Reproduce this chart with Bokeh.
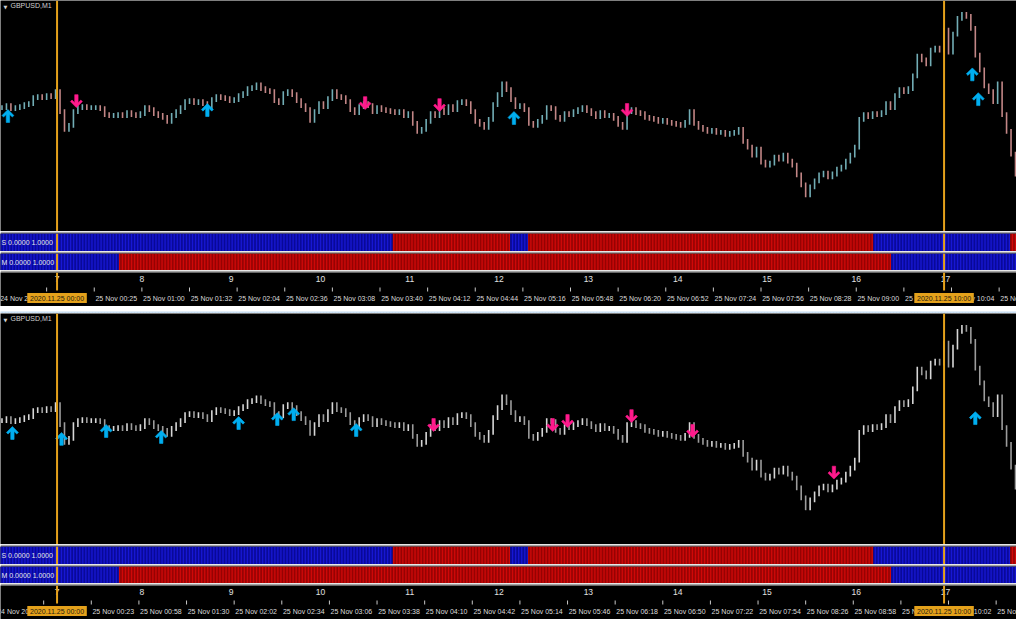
import numpy as np
from bokeh.plotting import figure
from bokeh.layouts import column
from bokeh.models import Range1d, Span, Label, ColumnDataSource
from bokeh.core.properties import value
from bokeh.embed import file_html
from bokeh.resources import INLINE

# ---------------------------------------------------------------- data
SYMBOL = "GBPUSD,M1"
FIRST_BAR = -38            # bar 0 = 2020.11.25 00:00 (M1 bars)
LAST_BAR = 644.67
GROUP = 3                  # minutes summarised by each drawn bar

# closing price of each 3-minute group
close = [
    1.33520, 1.33530, 1.33515, 1.33520, 1.33525, 1.33535, 1.33540, 1.33570, 1.33575, 1.33570,
    1.33580, 1.33575, 1.33600, 1.33500, 1.33410, 1.33430, 1.33500, 1.33520, 1.33525, 1.33520,
    1.33520, 1.33520, 1.33515, 1.33485, 1.33480, 1.33480, 1.33485, 1.33480, 1.33495, 1.33485,
    1.33480, 1.33490, 1.33520, 1.33510, 1.33490, 1.33480, 1.33470, 1.33450, 1.33480, 1.33500,
    1.33520, 1.33550, 1.33555, 1.33545, 1.33550, 1.33540, 1.33525, 1.33560, 1.33575, 1.33570,
    1.33565, 1.33555, 1.33560, 1.33580, 1.33590, 1.33615, 1.33620, 1.33635, 1.33615, 1.33605,
    1.33600, 1.33555, 1.33545, 1.33590, 1.33600, 1.33585, 1.33555, 1.33530, 1.33510, 1.33455,
    1.33500, 1.33540, 1.33525, 1.33565, 1.33600, 1.33575, 1.33570, 1.33550, 1.33510, 1.33495,
    1.33525, 1.33540, 1.33530, 1.33500, 1.33520, 1.33510, 1.33505, 1.33500, 1.33495, 1.33500,
    1.33480, 1.33490, 1.33440, 1.33400, 1.33410, 1.33450, 1.33490, 1.33480, 1.33510, 1.33495,
    1.33525, 1.33510, 1.33545, 1.33550, 1.33540, 1.33500, 1.33450, 1.33435, 1.33420, 1.33460,
    1.33535, 1.33585, 1.33640, 1.33610, 1.33560, 1.33525, 1.33530, 1.33510, 1.33440, 1.33430,
    1.33450, 1.33470, 1.33520, 1.33515, 1.33470, 1.33460, 1.33490, 1.33485, 1.33500, 1.33510,
    1.33520, 1.33505, 1.33490, 1.33475, 1.33495, 1.33480, 1.33480, 1.33465, 1.33435, 1.33420,
    1.33500, 1.33510, 1.33495, 1.33490, 1.33470, 1.33465, 1.33460, 1.33450, 1.33455, 1.33445,
    1.33440, 1.33435, 1.33430, 1.33445, 1.33500, 1.33440, 1.33420, 1.33410, 1.33400, 1.33405,
    1.33395, 1.33395, 1.33385, 1.33390, 1.33395, 1.33410, 1.33350, 1.33320, 1.33280, 1.33310,
    1.33245, 1.33230, 1.33240, 1.33270, 1.33260, 1.33280, 1.33250, 1.33230, 1.33180, 1.33130,
    1.33080, 1.33120, 1.33150, 1.33180, 1.33190, 1.33170, 1.33185, 1.33210, 1.33220, 1.33250,
    1.33280, 1.33320, 1.33460, 1.33485, 1.33475, 1.33490, 1.33485, 1.33495, 1.33540, 1.33520,
    1.33580, 1.33610, 1.33600, 1.33615, 1.33680, 1.33780, 1.33760, 1.33740, 1.33810, 1.33820,
    1.33810, 1.33910, 1.33800, 1.33890, 1.33970, 1.33990, 1.33980, 1.33920, 1.33785, 1.33710,
    1.33630, 1.33600, 1.33550, 1.33640, 1.33485, 1.33400, 1.33285, 1.33185,
]

# signal arrows (bar index, price of arrow tip)
top_up_bar = [-33, 101, 307, 615, 619]
top_up_price = [1.33510, 1.33540, 1.33500, 1.33720, 1.33595]
top_dn_bar = [13, 207, 257, 383]
top_dn_price = [1.33520, 1.33510, 1.33500, 1.33475]
bot_up_bar = [-30, 3, 33, 70, 122, 148, 159, 201, 617]
bot_up_price = [1.33490, 1.33460, 1.33500, 1.33470, 1.33540, 1.33560, 1.33585, 1.33505, 1.33565]
bot_dn_bar = [253, 333, 343, 386, 427, 522]
bot_dn_price = [1.33465, 1.33465, 1.33485, 1.33510, 1.33435, 1.33225]

# S / M histogram states (bar where a state begins; 0 = blue, 1 = red)
s_change_bar = [-38, 226, 305, 317, 549, 641]
s_change_state = [0, 1, 0, 1, 0, 1]
m_change_bar = [-38, 42, 561]
m_change_state = [0, 1, 0]
s_label = "S 0.0000 1.0000"
m_label = "M 0.0000 1.0000"

hour_bar = [0, 57, 117, 177, 237, 297, 357, 417, 477, 537, 597]
hour_label = ["7", "8", "9", "10", "11", "12", "13", "14", "15", "16", "17"]

top_tick_bar = [-39, -7, 25, 57, 89, 121, 153, 185, 217, 249, 281, 313, 345, 377, 409,
                441, 473, 505, 537, 569, 601, 633]
top_tick_label = ["24 Nov 2020", "", "25 Nov 00:25", "25 Nov 01:00", "25 Nov 01:32",
                  "25 Nov 02:04", "25 Nov 02:36", "25 Nov 03:08", "25 Nov 03:40",
                  "25 Nov 04:12", "25 Nov 04:44", "25 Nov 05:16", "25 Nov 05:48",
                  "25 Nov 06:20", "25 Nov 06:52", "25 Nov 07:24", "25 Nov 07:56",
                  "25 Nov 08:28", "25 Nov 09:00", "25 Nov 09:32", "25 Nov 10:04",
                  "25 Nov 10:36"]
bot_tick_bar = [-41, -9, 23, 55, 87, 119, 151, 183, 215, 247, 279, 311, 343, 375, 407,
                439, 471, 503, 535, 567, 599, 631]
bot_tick_label = ["24 Nov 2020", "", "25 Nov 00:23", "25 Nov 00:58", "25 Nov 01:30",
                  "25 Nov 02:02", "25 Nov 02:34", "25 Nov 03:06", "25 Nov 03:38",
                  "25 Nov 04:10", "25 Nov 04:42", "25 Nov 05:14", "25 Nov 05:46",
                  "25 Nov 06:18", "25 Nov 06:50", "25 Nov 07:22", "25 Nov 07:54",
                  "25 Nov 08:26", "25 Nov 08:58", "25 Nov 09:30", "25 Nov 10:02",
                  "25 Nov 10:34"]

vline_bar = [0, 596]
vline_label = ["2020.11.25 00:00", "2020.11.25 10:00"]

# ---------------------------------------------------------------- style
W = 1016
H_PRICE, H_S, H_M, H_AXIS, H_SEP = 231, 20, 19, 36, 7
PRICE_TOP, PRICE_BOTTOM = 1.34060, 1.32895
PX_BAR = 1 / 1.5          # bars per reference pixel
PX_PRICE = 0.00005        # price per reference pixel
ORANGE = "#e4a11b"
SEP_GRAY = "#a3a3a3"
FONT = "Liberation Sans"
UP_COLOR = "#00aef0"
DN_COLOR = "#ff1a8c"
ARROW_SHAPE = [(0, 0), (6, 6), (4.4, 7.6), (1.7, 4.9), (1.7, 13), (-1.7, 13),
               (-1.7, 4.9), (-4.4, 7.6), (-6, 6)]


def make_fig(h, y_range, top=0, bottom=0, border="#000000", bg="#000000"):
    f = figure(width=W, height=h, x_range=Range1d(FIRST_BAR, LAST_BAR), y_range=y_range,
               x_axis_type=None, y_axis_type=None, output_backend="svg",
               toolbar_location=None, min_border=0)
    f.min_border_top = top
    f.min_border_bottom = bottom
    f.min_border_left = 0
    f.min_border_right = 0
    f.border_fill_color = border
    f.background_fill_color = bg
    f.outline_line_color = None
    return f


def add_vlines(f):
    for b in vline_bar:
        f.add_layout(Span(location=b, dimension="height", line_color=ORANGE, line_width=2))


def arrow_patches(bars, prices, up):
    xs, ys = [], []
    s = -1 if up else 1
    for b, p in zip(bars, prices):
        xs.append([b + dx * PX_BAR for dx, dy in ARROW_SHAPE])
        ys.append([p + s * dy * PX_PRICE for dx, dy in ARROW_SHAPE])
    return xs, ys


def price_fig(bull, bear, up_b, up_p, dn_b, dn_p):
    f = make_fig(H_PRICE, Range1d(PRICE_BOTTOM, PRICE_TOP))
    n = len(close)
    bx = [FIRST_BAR + GROUP * i + 1 for i in range(n)]
    opens = [close[0]] + close[:-1]
    ext = 0.00012
    src = ColumnDataSource(dict(
        x=bx,
        lo=[min(o, c) - ext for o, c in zip(opens, close)],
        hi=[max(o, c) + ext for o, c in zip(opens, close)],
        color=[bull if c >= o else bear for o, c in zip(opens, close)],
    ))
    f.segment(x0="x", y0="lo", x1="x", y1="hi", line_color="color", line_width=1.6, source=src)
    xs, ys = arrow_patches(up_b, up_p, True)
    f.patches(xs, ys, fill_color=UP_COLOR, line_color=UP_COLOR, line_width=0.6)
    xs, ys = arrow_patches(dn_b, dn_p, False)
    f.patches(xs, ys, fill_color=DN_COLOR, line_color=DN_COLOR, line_width=0.6)
    add_vlines(f)
    f.add_layout(Label(x=3, y=H_PRICE - 6, x_units="screen", y_units="screen", text="\u25bc",
                       text_font="DejaVu Sans", text_font_size="5px", text_color="#d0d0d0",
                       text_baseline="middle"))
    f.add_layout(Label(x=10, y=H_PRICE - 5, x_units="screen", y_units="screen", text=SYMBOL,
                       text_font=FONT, text_font_size="7px", text_color="#d0d0d0",
                       text_baseline="middle"))
    return f


def strip_fig(h, change_bar, change_state, label):
    f = make_fig(h, Range1d(0, 1), top=2, border=SEP_GRAY)
    bars = list(range(FIRST_BAR, int(LAST_BAR) + 1))
    states = []
    k = 0
    for b in bars:
        while k + 1 < len(change_bar) and b >= change_bar[k + 1]:
            k += 1
        states.append(change_state[k])
    lefts, rights, dcol = [], [], []
    for i, b in enumerate(change_bar):
        lefts.append(b - 0.5)
        rights.append((change_bar[i + 1] if i + 1 < len(change_bar) else LAST_BAR + 1) - 0.5)
        dcol.append("#00006e" if change_state[i] == 0 else "#6e0000")
    f.quad(left=lefts, right=rights, bottom=0, top=1, fill_color=dcol, line_color=None)
    bright = ["#1a1ae0" if s == 0 else "#dc0a0a" for s in states]
    f.vbar(x=bars, width=0.6, bottom=0, top=1, fill_color=bright, line_color=None)
    add_vlines(f)
    f.add_layout(Label(x=1, y=(h - 2) / 2, x_units="screen", y_units="screen", text=label,
                       text_font=FONT, text_font_size="7px", text_color="#e6e6e6",
                       text_baseline="middle"))
    return f


def axis_fig(tick_bar, tick_label):
    f = make_fig(H_AXIS, Range1d(34, 0), top=2, border=SEP_GRAY)
    f.text(x=hour_bar, y=[6] * len(hour_bar), text=hour_label, text_font=value(FONT),
           text_font_size="8.5px", text_color="#e0e0e0", text_align="center",
           text_baseline="middle")
    f.segment(x0=tick_bar, y0=[15] * len(tick_bar), x1=tick_bar, y1=[19] * len(tick_bar),
              line_color="#c8c8c8", line_width=1)
    f.text(x=[b + 0.8 for b in tick_bar], y=[25.5] * len(tick_bar), text=tick_label,
           text_font=value(FONT), text_font_size="7px", text_color="#dcdcdc",
           text_align="left", text_baseline="middle")
    f.segment(x0=vline_bar, y0=[0] * len(vline_bar), x1=vline_bar, y1=[18] * len(vline_bar),
              line_color=ORANGE, line_width=2)
    f.quad(left=[b - 20 for b in vline_bar], right=[b + 20 for b in vline_bar],
           top=[20.5] * len(vline_bar), bottom=[30.5] * len(vline_bar),
           fill_color=ORANGE, line_color=None)
    f.text(x=vline_bar, y=[25.5] * len(vline_bar), text=vline_label, text_font=value(FONT),
           text_font_size="7px", text_color="#1e1a10", text_align="center",
           text_baseline="middle")
    return f


def sep_fig():
    f = make_fig(H_SEP, Range1d(0, 1), bottom=1, border="#5c9fd6", bg="#c4dbf1")
    f.segment(x0=[FIRST_BAR], y0=[0.75], x1=[LAST_BAR], y1=[0.75], line_color="#eef5fc",
              line_width=1, line_dash="1 2")
    return f


top_price = price_fig("#72adb5", "#c28686", top_up_bar, top_up_price, top_dn_bar, top_dn_price)
top_s = strip_fig(H_S, s_change_bar, s_change_state, s_label)
top_m = strip_fig(H_M, m_change_bar, m_change_state, m_label)
top_axis = axis_fig(top_tick_bar, top_tick_label)
sep = sep_fig()
bot_price = price_fig("#d6d6d6", "#9c9c9c", bot_up_bar, bot_up_price, bot_dn_bar, bot_dn_price)
bot_s = strip_fig(H_S, s_change_bar, s_change_state, s_label)
bot_m = strip_fig(H_M, m_change_bar, m_change_state, m_label)
bot_axis = axis_fig(bot_tick_bar, bot_tick_label)

p = column(top_price, top_s, top_m, top_axis, sep, bot_price, bot_s, bot_m, bot_axis,
           spacing=0)

open("out.html", "w").write(file_html(p, INLINE))
